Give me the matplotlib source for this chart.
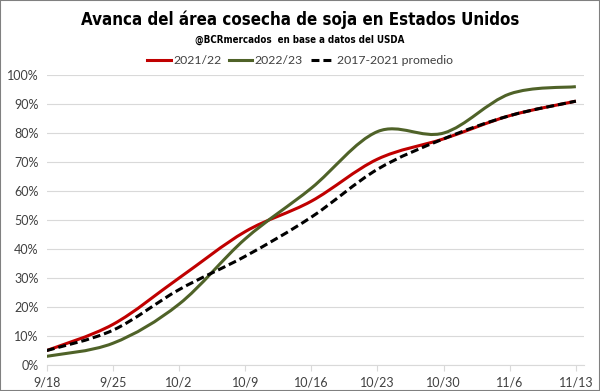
import numpy as np
import matplotlib.pyplot as plt
from matplotlib.path import Path
from matplotlib.patches import PathPatch, Rectangle
from matplotlib.lines import Line2D

# ── data ────────────────────────────────────────────────────────────────────
weeks = ["9/18", "9/25", "10/2", "10/9", "10/16", "10/23", "10/30", "11/6", "11/13"]
avance_2122 = [5, 14, 30, 46, 56.5, 71, 78, 86, 91]
avance_2223 = [3, 7.5, 21, 43.5, 61, 80.5, 80, 93.5, 96]
promedio_1721 = [5, 12, 26, 37.5, 51, 67.5, 78, 86, 91]

labels = ["2021/22", "2022/23", "2017-2021 promedio"]
colors = ["#C00000", "#4F6228", "black"]
styles = ["-", "-", (0, (2.6, 1.3))]


def smooth_path(x, y):
    # Excel-like smoothed line: cubic Bezier through the points (Catmull-Rom)
    x = np.asarray(x, float)
    y = np.asarray(y, float)
    verts = [(x[0], y[0])]
    codes = [Path.MOVETO]
    n = len(x)
    for i in range(n - 1):
        p0 = (x[max(i - 1, 0)], y[max(i - 1, 0)])
        p1 = (x[i], y[i])
        p2 = (x[i + 1], y[i + 1])
        p3 = (x[min(i + 2, n - 1)], y[min(i + 2, n - 1)])
        c1 = (p1[0] + (p2[0] - p0[0]) / 6, p1[1] + (p2[1] - p0[1]) / 6)
        c2 = (p2[0] - (p3[0] - p1[0]) / 6, p2[1] - (p3[1] - p1[1]) / 6)
        verts += [c1, c2, p2]
        codes += [Path.CURVE4] * 3
    return Path(verts, codes)


plt.rcParams["font.family"] = ["Lato", "DejaVu Sans"]

fig = plt.figure(figsize=(6, 3.91), dpi=100)
ax = fig.add_axes([0.078, 0.0665, 0.895, 0.7415])

x = np.arange(len(weeks))
for series, c, ls in zip([avance_2122, avance_2223, promedio_1721], colors, styles):
    ax.add_patch(PathPatch(smooth_path(x, series), facecolor="none",
                           edgecolor=c, lw=2.2, linestyle=ls, capstyle="butt"))

ax.set_xlim(0, 8.12)
ax.set_ylim(0, 100)
ax.set_yticks(np.arange(0, 101, 10))
ax.set_yticklabels([f"{v}%" for v in range(0, 101, 10)])
ax.set_xticks(x)
ax.set_xticklabels(weeks)
ax.grid(axis="y", color="#D9D9D9", lw=0.8)
ax.set_axisbelow(True)
for s in ["top", "right", "left"]:
    ax.spines[s].set_visible(False)
ax.spines["bottom"].set_color("#D9D9D9")
ax.tick_params(axis="y", length=0, pad=6, labelsize=9, labelcolor="#404040")
ax.tick_params(axis="x", length=4, color="#D9D9D9", pad=4, labelsize=9,
               labelcolor="#404040")

fig.text(0.5, 0.95, "Avanca del área cosecha de soja en Estados Unidos",
         ha="center", va="center", fontsize=12.2, fontweight="bold",
         family="DejaVu Sans", fontstretch="condensed")
fig.text(0.5, 0.898, "@BCRmercados  en base a datos del USDA",
         ha="center", va="center", fontsize=7, fontweight="bold",
         family="DejaVu Sans", fontstretch="condensed")

handles = [Line2D([], [], color=c, lw=2.2, linestyle=ls) for c, ls in zip(colors, styles)]
fig.legend(handles, labels, loc="center", bbox_to_anchor=(0.5, 0.844), ncol=3,
           frameon=False, fontsize=8.8, handlelength=1.9, handletextpad=0.2,
           columnspacing=0.65, labelcolor="#404040", borderpad=0)

fig.patches.append(Rectangle((0, 0), 1, 1, transform=fig.transFigure, fill=False,
                             edgecolor="#808080", lw=1.5))

fig.savefig("out.png", dpi=100)
